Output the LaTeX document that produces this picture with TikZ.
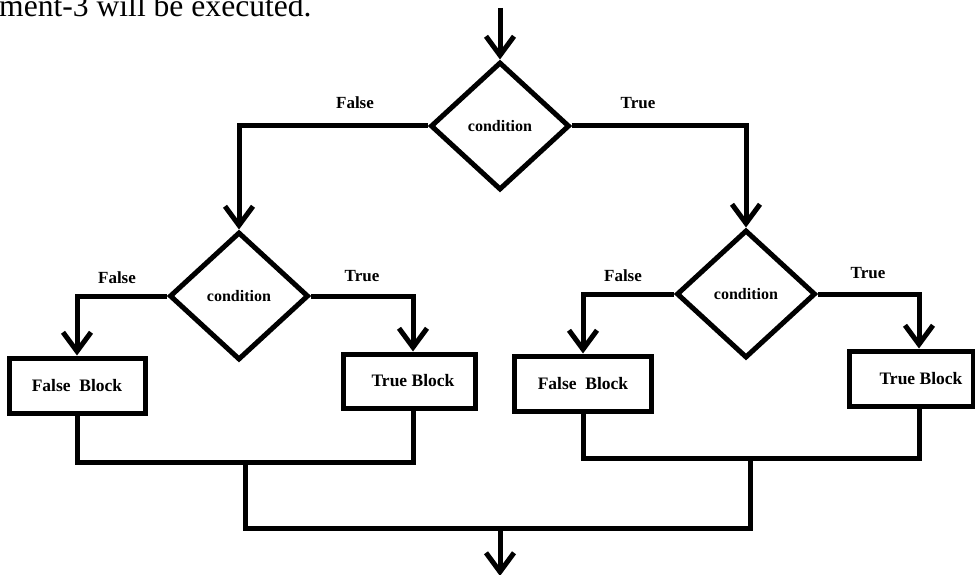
\documentclass[tikz,border=0pt]{standalone}
\usepackage{fontspec}
\setmainfont{Liberation Serif}
\usetikzlibrary{shapes.geometric,arrows.meta}

\begin{document}
\begin{tikzpicture}[x=1pt,y=-1pt,
  flow/.style={line width=5pt, line join=miter},
  arr/.style={flow, -{Straight Barb[length=19pt,width=28pt]}},
  decision/.style={diamond, draw, line width=5pt, minimum width=139pt,
    minimum height=128pt, inner sep=0pt, font=\fontsize{16}{18}\selectfont\bfseries},
  block/.style={rectangle, draw, line width=5pt, inner sep=0pt,
    font=\fontsize{17.5}{20}\selectfont\bfseries},
  lbl/.style={inner sep=0pt, font=\fontsize{17}{20}\selectfont\bfseries}
]
\useasboundingbox (0,0) rectangle (975,575);
\clip (0,0) rectangle (975,575);

% tail of the preceding sentence
\node[anchor=base west, inner sep=0pt, font=\fontsize{31.6}{36}\selectfont]
  (tail) at (-1,17) {ment-3 will be executed.};

% decisions
\node[decision] (d0) at (500,126) {condition};
\node[decision] (d1) at (239,296) {condition};
\node[decision] (d2) at (746,294) {condition};

% blocks
\node[block, minimum width=136pt, minimum height=55pt] (lf) at (77,385.5) {False\ \ Block};
\node[block, minimum width=132pt, minimum height=54pt] (lt) at (409,381) {\hspace{8pt}True Block};
\node[block, minimum width=137pt, minimum height=55pt] (rf) at (583,383.5) {False\ \ Block};
\node[block, minimum width=124pt, minimum height=55pt] (rt) at (911,378.5) {\hspace{20pt}True Block};

% branch labels
\node[lbl] (f0) at (355,103) {False};
\node[lbl] (t0) at (638,103) {True};
\node[lbl] (f1) at (117,278) {False};
\node[lbl] (t1) at (362,276) {True};
\node[lbl] (f2) at (623,276) {False};
\node[lbl] (t2) at (868,273) {True};

% junction points
\coordinate (in) at (500,8);
\coordinate (jl) at (245,462);
\coordinate (jr) at (750,458);
\coordinate (jb) at (500,528);
\coordinate (out) at (500,576);

% connectors
\draw[arr] (in) -- (d0.north);
\draw[arr] (d0.west) -| (d1.north);
\draw[arr] (d0.east) -| (d2.north);
\draw[arr] (d1.west) -| (lf.north);
\draw[arr] (d1.east) -| ([xshift=4pt]lt.north);
\draw[arr] (d2.west) -| (rf.north);
\draw[arr] (d2.east) -| ([xshift=8pt]rt.north);

\draw[flow] (lf.south) |- (jl) -| ([xshift=4pt]lt.south);
\draw[flow] (rf.south) |- (jr) -| ([xshift=8pt]rt.south);
\draw[flow] (jl) |- (jb) -| (jr);
\draw[arr] (jb) -- (out);
\end{tikzpicture}
\end{document}
